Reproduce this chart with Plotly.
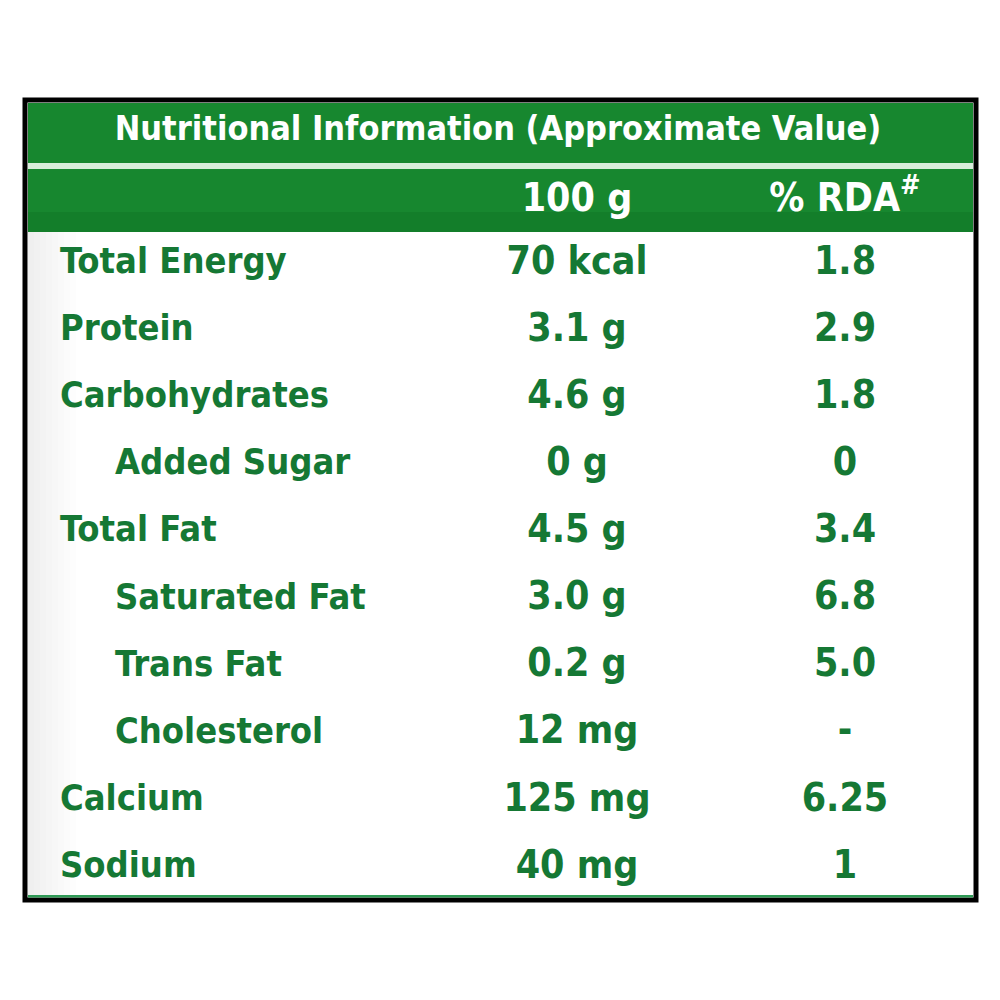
import plotly.graph_objects as go

title = "Nutritional Information (Approximate Value)"
col_headers = ["100 g", "% RDA<sup>#</sup>"]

nutrients = ["Total Energy", "Protein", "Carbohydrates", "Added Sugar", "Total Fat",
             "Saturated Fat", "Trans Fat", "Cholesterol", "Calcium", "Sodium"]
is_sub = [False, False, False, True, False, True, True, True, False, False]
per_100g = ["70 kcal", "3.1 g", "4.6 g", "0 g", "4.5 g", "3.0 g", "0.2 g", "12 mg", "125 mg", "40 mg"]
rda = ["1.8", "2.9", "1.8", "0", "3.4", "6.8", "5.0", "-", "6.25", "1"]

GREEN = "#17872f"
TEXT_GREEN = "#157834"
FONT = "Liberation Sans Narrow, DejaVu Sans Condensed, sans-serif"

# layout in pixel units of the 1000x1000 page
row_y0, row_step = 264, 67.1
ys = [row_y0 + i * row_step for i in range(len(nutrients))]
label_x = [115 if s else 60 for s in is_sub]

label_font = dict(family=FONT, size=36, color=TEXT_GREEN, weight="bold")
value_font = dict(family=FONT, size=39, color=TEXT_GREEN, weight="bold")

fig = go.Figure()

fig.add_trace(go.Scatter(x=label_x, y=ys, text=nutrients, mode="text",
                         textposition="middle right", textfont=label_font))
fig.add_trace(go.Scatter(x=[577] * len(per_100g), y=ys, text=per_100g, mode="text",
                         textposition="middle center", textfont=value_font))
fig.add_trace(go.Scatter(x=[845] * len(rda), y=ys, text=rda, mode="text",
                         textposition="middle center", textfont=value_font))

# header texts
fig.add_trace(go.Scatter(x=[498], y=[131], text=[title], mode="text",
                         textposition="middle center",
                         textfont=dict(family=FONT, size=34, color="white", weight="bold")))
fig.add_trace(go.Scatter(x=[577, 845], y=[201, 201], text=col_headers, mode="text",
                         textposition="middle center",
                         textfont=dict(family=FONT, size=39, color="white", weight="bold")))

shapes = [
    dict(type="rect", x0=25, x1=976, y0=100, y1=900, fillcolor="white",
         line=dict(color="black", width=5), layer="below"),
]
# soft grey shading down the left edge of the body
for i, c in enumerate(["#efefef", "#f1f1f1", "#f3f3f3", "#f5f5f5", "#f7f7f7", "#f9f9f9", "#fbfbfb", "#fdfdfd"]):
    shapes.append(dict(type="rect", x0=28 + i * 6, x1=34 + i * 6, y0=232, y1=895,
                       fillcolor=c, line_width=0, layer="below"))
shapes += [
    dict(type="rect", x0=28, x1=973, y0=103, y1=163, fillcolor=GREEN, line_width=0, layer="below"),
    dict(type="rect", x0=28, x1=973, y0=163, y1=169, fillcolor="#d8eedb", line_width=0, layer="below"),
    dict(type="rect", x0=28, x1=973, y0=169, y1=232, fillcolor=GREEN, line_width=0, layer="below"),
    dict(type="rect", x0=28, x1=973, y0=212, y1=232, fillcolor="#0c6e22", opacity=0.35,
         line_width=0, layer="below"),
    dict(type="rect", x0=28, x1=973, y0=895, y1=897.5, fillcolor="#2e9a55", line_width=0, layer="below"),
]

fig.update_layout(
    width=1000, height=1000,
    margin=dict(l=0, r=0, t=0, b=0),
    paper_bgcolor="white", plot_bgcolor="white",
    showlegend=False,
    shapes=shapes,
    xaxis=dict(range=[0, 1000], visible=False, fixedrange=True),
    yaxis=dict(range=[1000, 0], visible=False, fixedrange=True),
)

fig.write_html("out.html", config={"displayModeBar": False},
               post_script="document.body.style.margin='0';")
